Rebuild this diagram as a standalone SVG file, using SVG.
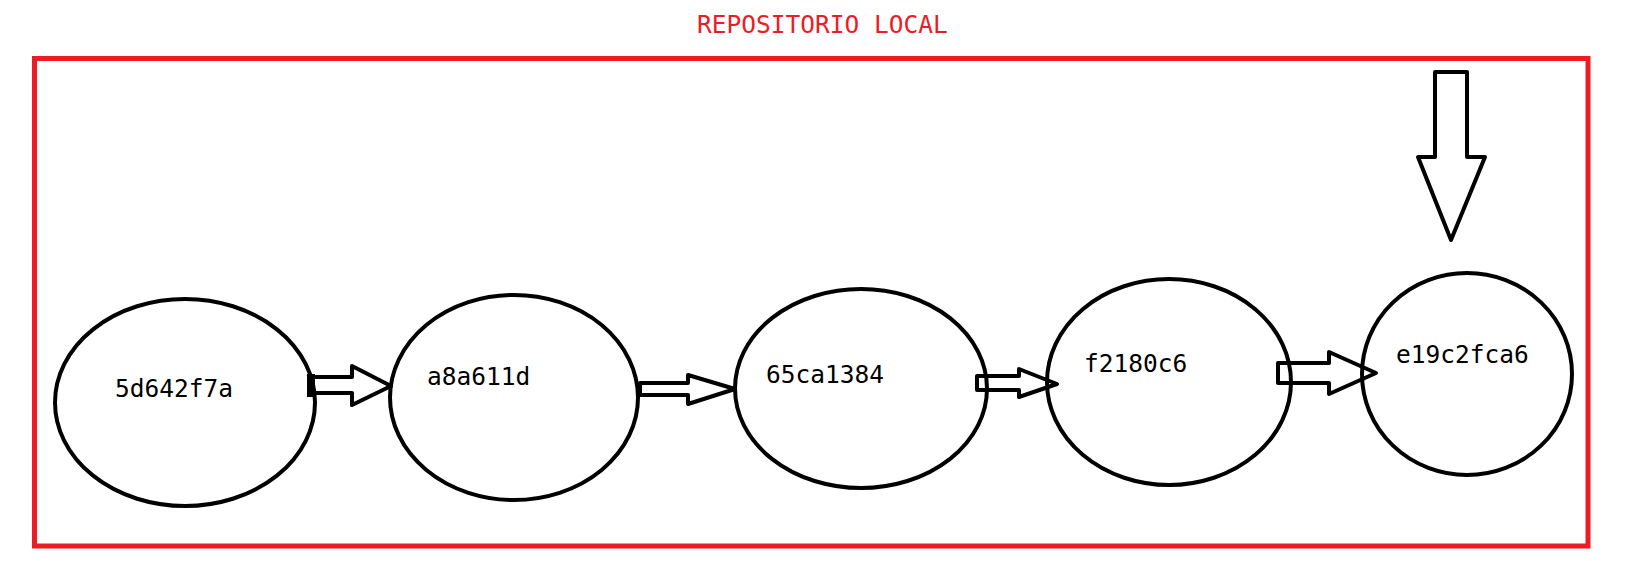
<svg xmlns="http://www.w3.org/2000/svg" width="1625" height="561" viewBox="0 0 1625 561">
<style>
.node ellipse{fill:#fff;stroke:#000;stroke-width:4}
.lbl{font-family:"DejaVu Sans Mono","Liberation Mono",monospace;font-size:24.5px;fill:#000}
.title{font-family:"DejaVu Sans Mono","Liberation Mono",monospace;font-size:24.5px;fill:#ED1C24}
.arrow{fill:none;stroke:#000;stroke-width:4;stroke-linejoin:round}
</style>
<rect width="1625" height="561" fill="#fff"/>
<text class="title" x="697" y="33">REPOSITORIO LOCAL</text>
<rect id="repo" x="34.5" y="58.5" width="1553.5" height="487.5" fill="none" stroke="#ED1C24" stroke-width="5"/>
<g id="n1" class="node"><ellipse cx="185" cy="402.5" rx="130" ry="103.5"/><text class="lbl" x="115" y="397">5d642f7a</text></g>
<g id="n2" class="node"><ellipse cx="514" cy="397.5" rx="124" ry="102.5"/><text class="lbl" x="427" y="385">a8a611d</text></g>
<g id="n3" class="node"><ellipse cx="861" cy="388.5" rx="126" ry="99.5"/><text class="lbl" x="766" y="383">65ca1384</text></g>
<g id="n4" class="node"><ellipse cx="1169" cy="382" rx="122" ry="103"/><text class="lbl" x="1084" y="372">f2180c6</text></g>
<g id="n5" class="node"><ellipse cx="1467" cy="374" rx="105" ry="101"/><text class="lbl" x="1396" y="363">e19c2fca6</text></g>
<g id="connectors">
<rect x="307" y="374" width="8" height="23" fill="#000"/>
<polygon class="arrow" points="310,377 352,377 352,366 391,386 352,405 352,393 310,393"/>
<polygon class="arrow" points="640,383 688,383 688,375 735,389 688,404 688,395 640,395"/>
<polygon class="arrow" points="977,376 1019,376 1019,369 1057,384 1019,397 1019,390 977,390"/>
<polygon class="arrow" points="1278,363 1329,363 1329,352 1376,373 1329,394 1329,383 1278,383"/>
<polygon class="arrow" points="1435,72 1467,72 1467,157 1485,157 1451,240 1418,157 1435,157"/>
</g>
</svg>
